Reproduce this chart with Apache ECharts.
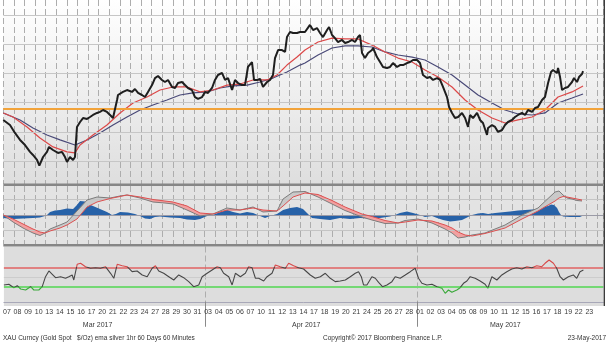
<!DOCTYPE html>
<html><head><meta charset="utf-8">
<script src="https://cdn.jsdelivr.net/npm/echarts@6/dist/echarts.min.js"></script>
<style>html,body{margin:0;padding:0;background:#fff}#c{width:610px;height:354px}</style>
</head><body><div id="c"></div>
<script>
// ---- tick labels ----
const dayLabels = ['07','08','09','10','13','14','15','16','17','20','21','22','23','24','27','28','29','30','31',
  '03','04','05','06','07','10','11','12','13','14','17','18','19','20','21','24','25','26','27','28',
  '01','02','03','04','05','08','09','10','11','12','15','16','17','18','19','22','23'];
const monthLabels = ['Mar 2017','Apr 2017','May 2017'];
const monthCenters = [8.85, 28.55, 47.35];
const monthStarts = [19, 39];

// ---- price panel (x = trading day index, y = $/oz) ----
const price = [[0,1228.1],[0.63,1224.6],[1.10,1219.2],[1.58,1214.4],[2.05,1210.9],[2.52,1206.2],[2.80,1204.1],[3.18,1200.7],[3.40,1196.8],[3.75,1202.7],[4.12,1206.2],[4.31,1209.6],[4.69,1207.5],[5.16,1205.5],[5.54,1206.2],[5.82,1202.7],[6.01,1199.3],[6.29,1202.7],[6.58,1200.7],[6.76,1202.7],[6.95,1223.3],[7.24,1226.7],[7.52,1229.4],[7.90,1228.8],[8.18,1230.1],[8.46,1231.5],[8.84,1232.9],[9.12,1233.6],[9.41,1234.9],[9.78,1233.6],[10.07,1231.5],[10.35,1229.4],[10.73,1241.8],[10.82,1245.2],[11.29,1247.3],[11.67,1248.6],[12.14,1247.3],[12.42,1249.3],[12.71,1246.6],[13.08,1245.2],[13.37,1243.8],[13.65,1247.3],[14.03,1252.0],[14.31,1256.8],[14.59,1258.2],[14.97,1255.5],[15.25,1254.1],[15.54,1255.5],[15.92,1250.7],[16.20,1250.0],[16.48,1253.4],[16.86,1254.1],[17.14,1252.0],[17.42,1250.0],[17.80,1248.6],[18.08,1243.8],[18.37,1242.5],[18.75,1243.8],[19.03,1247.3],[19.31,1246.6],[19.69,1250.0],[19.97,1255.5],[20.25,1258.9],[20.63,1260.3],[20.92,1255.5],[21.20,1256.8],[21.58,1248.6],[21.86,1255.5],[22.14,1253.4],[22.52,1252.0],[22.80,1252.0],[23.08,1264.4],[23.46,1267.8],[23.65,1255.5],[23.93,1255.5],[24.22,1256.2],[24.50,1250.7],[24.88,1254.1],[25.16,1255.5],[25.44,1258.9],[25.63,1270.5],[25.92,1276.0],[26.29,1276.0],[26.58,1274.7],[26.76,1284.9],[27.05,1288.4],[27.33,1287.7],[27.71,1287.7],[27.99,1288.4],[28.46,1288.4],[28.93,1293.2],[29.22,1289.7],[29.59,1291.1],[29.88,1287.7],[30.16,1284.9],[30.54,1289.7],[30.73,1291.8],[31.01,1286.3],[31.29,1284.2],[31.58,1281.5],[31.95,1282.9],[32.24,1280.8],[32.52,1281.5],[32.90,1282.9],[33.18,1281.5],[33.46,1284.9],[33.65,1286.3],[33.84,1274.0],[34.12,1270.5],[34.41,1274.0],[34.78,1276.0],[34.88,1277.4],[35.25,1271.2],[35.54,1267.8],[35.82,1264.4],[36.20,1263.7],[36.48,1264.4],[36.76,1267.1],[37.14,1264.4],[37.42,1265.7],[37.71,1265.7],[38.08,1267.1],[38.37,1267.8],[38.65,1269.2],[39.03,1269.2],[39.31,1267.1],[39.59,1258.9],[39.97,1256.8],[40.25,1257.5],[40.54,1255.5],[40.92,1256.8],[41.20,1255.5],[41.48,1250.7],[41.86,1243.8],[42.05,1237.0],[42.33,1232.9],[42.61,1229.4],[42.90,1230.1],[43.27,1232.9],[43.56,1229.4],[43.84,1223.3],[44.03,1231.5],[44.31,1229.4],[44.69,1232.9],[44.97,1228.1],[45.25,1226.0],[45.63,1217.8],[45.73,1222.6],[46.10,1224.6],[46.39,1223.3],[46.67,1219.9],[47.05,1221.2],[47.33,1224.6],[47.61,1226.7],[47.99,1228.1],[48.27,1230.1],[48.56,1231.5],[48.93,1232.9],[49.22,1231.5],[49.50,1234.9],[49.88,1233.6],[50.16,1236.3],[50.44,1237.0],[50.82,1241.8],[51.10,1243.8],[51.39,1253.4],[51.67,1261.0],[51.86,1262.3],[52.24,1260.3],[52.33,1263.7],[52.52,1257.5],[52.71,1248.6],[52.99,1250.0],[53.27,1250.7],[53.65,1254.1],[53.84,1256.8],[54.12,1254.1],[54.31,1257.5],[54.59,1259.6],[54.69,1261.6]];
const emaFast = [[0,1232.9],[0.92,1230.1],[2.24,1223.3],[3.46,1215.7],[4.69,1209.6],[6.01,1206.2],[6.76,1205.5],[7.24,1210.9],[8.46,1217.8],[9.78,1224.6],[11.01,1232.9],[12.24,1239.7],[13.56,1243.8],[14.78,1248.6],[16.01,1250.7],[17.33,1250.7],[18.56,1247.3],[19.78,1248.6],[21.10,1252.0],[22.33,1252.7],[23.56,1255.5],[24.88,1255.5],[25.82,1258.9],[26.76,1265.7],[27.71,1271.2],[28.46,1276.0],[29.69,1281.5],[31.01,1284.2],[32.24,1283.6],[33.46,1283.6],[34.78,1279.4],[36.01,1274.7],[37.24,1270.5],[38.56,1267.8],[39.78,1262.3],[41.01,1257.5],[42.33,1250.7],[43.56,1241.8],[44.78,1234.9],[46.10,1229.4],[47.33,1226.0],[48.56,1228.1],[49.88,1230.1],[51.10,1234.9],[52.33,1243.8],[53.65,1247.3],[54.69,1251.4]];
const emaSlow = [[0,1232.9],[1.58,1228.1],[2.80,1222.6],[4.12,1217.8],[5.35,1214.4],[6.76,1210.9],[7.90,1214.4],[9.12,1219.2],[10.35,1224.6],[11.67,1230.1],[12.90,1234.9],[14.12,1238.3],[15.44,1241.8],[16.67,1245.2],[17.89,1246.6],[19.22,1247.3],[20.44,1250.0],[21.67,1251.4],[22.99,1252.0],[24.22,1254.1],[25.44,1256.8],[26.76,1261.0],[27.99,1265.7],[28.46,1267.1],[29.69,1272.6],[31.01,1277.4],[32.24,1278.8],[33.46,1278.8],[34.78,1278.1],[36.01,1274.7],[37.24,1272.6],[38.56,1271.2],[39.78,1269.2],[41.01,1264.4],[42.33,1258.9],[43.56,1252.0],[44.78,1245.2],[46.10,1239.7],[47.33,1234.9],[48.56,1232.2],[49.88,1231.5],[51.10,1232.9],[52.33,1239.7],[53.65,1243.1],[54.69,1245.9]];
const refLevel = 1235.6;
const priceGridLevels = [1200,1220,1240,1260,1280,1300];

// ---- MACD panel ----
const macdDays = [0,0.92,1.86,2.80,3.46,3.93,4.41,5.35,6.01,6.95,7.90,8.84,10.07,11.01,11.67,12.90,14.12,15.25,16.01,17.33,18.56,19.78,21.10,22.33,23.56,24.50,25.82,26.39,27.33,28.46,29.69,31.01,32.24,33.84,34.78,36.01,37.24,37.90,39.12,40.44,41.67,42.33,42.90,43.56,44.22,45.44,47.33,48.93,50.44,51.39,52.05,52.42,52.80,53.18,53.65,54.12,54.59];
const macdLine = [0,-0.7,-1.3,-1.8,-2.05,-1.8,-1.4,-1.0,-0.7,0.4,1.5,1.8,1.7,1.9,2.0,1.7,1.3,1.2,1.1,0.5,-0.1,0.1,0.7,0.5,0.8,0.3,0.4,1.6,2.3,2.35,1.8,1.1,0.45,-0.2,-0.5,-0.85,-0.8,-0.55,-0.4,-0.8,-1.4,-1.8,-2.3,-2.2,-2.0,-1.8,-1.0,0.0,0.7,1.65,2.3,2.4,2.0,1.7,1.6,1.45,1.4];
const signalLine = [0,-0.4,-0.9,-1.4,-1.7,-1.8,-1.6,-1.3,-1.0,-0.4,0.8,1.3,1.65,1.85,2.0,1.8,1.55,1.4,1.3,0.9,0.2,0.1,0.5,0.5,0.7,0.5,0.4,0.9,1.8,2.2,2.05,1.45,0.8,0.1,-0.15,-0.55,-0.8,-0.7,-0.5,-0.6,-1.0,-1.3,-1.7,-2.0,-2.1,-1.85,-1.3,-0.4,0.4,1.0,1.4,1.7,1.85,1.8,1.7,1.6,1.5];
const macdHist = [[0,-0.3],[0.92,-0.4],[1.86,-0.35],[2.80,-0.3],[3.46,-0.25],[3.93,-0.1],[4.12,0],[4.41,0.3],[4.88,0.45],[5.35,0.5],[6.01,0.65],[6.58,0.6],[6.95,1.0],[7.24,1.4],[7.71,1.35],[7.99,1.1],[8.46,0.9],[9.12,0.6],[9.78,0.3],[10.25,0],[10.63,0.1],[11.01,0.3],[11.76,0.25],[12.42,0.1],[12.90,-0.1],[13.37,-0.35],[13.84,-0.4],[14.31,-0.2],[14.78,-0.15],[15.73,-0.25],[16.67,-0.3],[17.33,-0.45],[18.08,-0.5],[18.56,-0.4],[19.22,-0.1],[19.78,0],[20.44,0.3],[21.10,0.5],[21.67,0.3],[22.33,0.15],[22.99,0.3],[23.56,0.2],[24.22,-0.1],[24.69,-0.3],[25.16,-0.1],[25.82,0.1],[26.39,0.5],[27.05,0.7],[27.71,0.8],[28.27,0.6],[28.84,0],[29.12,-0.3],[29.88,-0.4],[30.82,-0.5],[31.76,-0.3],[32.71,-0.4],[33.65,-0.3],[34.59,-0.35],[35.54,-0.3],[36.48,-0.15],[36.95,0],[37.42,0.2],[38.08,0.35],[38.65,0.2],[39.31,0],[39.78,-0.2],[40.44,-0.1],[40.92,-0.3],[41.48,-0.5],[42.14,-0.65],[42.61,-0.6],[43.27,-0.5],[43.84,-0.2],[44.22,0],[44.78,0.15],[45.25,0.2],[45.73,0.1],[46.39,0.2],[46.86,0.25],[47.80,0.35],[48.56,0.45],[49.22,0.5],[49.88,0.55],[50.44,0.6],[50.92,0.8],[51.39,0.9],[51.67,1.05],[51.95,1.0],[52.24,0.7],[52.42,0.3],[52.61,0],[52.80,-0.15],[53.46,-0.2],[54.22,-0.2],[54.59,-0.2]];
const macdGridLevels = [1.6, -1.5];

// ---- RSI panel ----
const rsi = [[0,34.1],[0.47,35.5],[0.94,28.6],[1.26,32.6],[1.58,25.9],[2.05,23.9],[2.52,30.6],[2.83,23.9],[3.30,23.9],[3.62,30.6],[3.93,50.9],[4.25,62.5],[4.57,55.8],[4.88,48.9],[5.35,50.9],[5.82,47.7],[6.13,50.9],[6.45,54.4],[6.60,44.2],[6.92,76.1],[7.24,78.1],[7.71,71.2],[8.18,68.0],[8.65,69.2],[9.12,68.0],[9.59,71.2],[10.07,57.8],[10.38,47.7],[10.70,76.1],[11.17,73.2],[11.64,71.2],[12.11,61.1],[12.58,62.5],[13.06,54.4],[13.53,50.9],[14.00,68.0],[14.31,73.2],[14.62,62.5],[15.09,57.8],[15.57,50.9],[16.04,44.2],[16.51,54.4],[16.98,48.9],[17.45,40.8],[17.92,30.6],[18.40,34.1],[18.72,50.9],[19.19,57.8],[19.66,64.5],[20.13,71.2],[20.44,69.2],[20.75,57.8],[21.23,50.9],[21.55,34.1],[21.86,57.8],[22.33,50.9],[22.80,57.8],[23.11,71.2],[23.43,69.2],[23.75,47.7],[24.06,47.7],[24.53,42.2],[24.85,50.9],[25.32,57.8],[25.63,74.7],[26.10,71.2],[26.58,68.0],[26.89,78.1],[27.36,73.2],[27.83,69.2],[28.30,66.5],[28.46,64.5],[28.93,54.4],[29.40,47.7],[29.88,50.9],[30.35,57.8],[30.82,47.7],[31.29,40.8],[31.76,42.2],[32.24,44.2],[32.71,50.9],[33.18,57.8],[33.49,61.1],[33.75,50.9],[33.96,34.1],[34.28,34.1],[34.75,50.9],[35.07,47.7],[35.38,39.5],[35.75,30.6],[36.17,34.1],[36.64,40.8],[36.95,50.9],[37.42,47.7],[37.90,54.4],[38.37,61.1],[38.84,68.0],[39.15,47.7],[39.47,37.5],[39.94,34.1],[40.42,35.5],[40.89,30.6],[41.36,27.4],[41.67,17.2],[41.98,23.9],[42.30,19.2],[42.77,23.9],[43.08,28.6],[43.40,37.5],[43.72,42.2],[44.03,50.9],[44.50,47.7],[44.97,42.2],[45.44,35.5],[45.70,27.4],[46.08,50.9],[46.55,44.2],[47.02,54.4],[47.49,61.1],[47.96,66.5],[48.43,69.2],[48.91,66.5],[49.38,71.2],[49.85,69.2],[50.32,73.2],[50.79,71.2],[51.10,78.1],[51.48,84.8],[51.89,78.1],[52.20,68.0],[52.52,50.9],[52.83,44.2],[53.30,50.9],[53.77,54.4],[54.09,47.7],[54.40,61.1],[54.72,64.5]];
const rsiUpper = 70, rsiLower = 30, rsiMid = 50;

const footerLeft = 'XAU Curncy (Gold Spot   $/Oz) ema silver 1hr 60 Days 60 Minutes';
const footerMid = 'Copyright\u00A9 2017 Bloomberg Finance L.P.';
const footerRight = '23-May-2017';

// ---- build ----
const FONT = "'Liberation Sans','DejaVu Sans',sans-serif";
const chart = echarts.init(document.getElementById('c'), null, {renderer:'canvas'});
const GL = 3.3, GW = 600;
const bandSegs = macdDays.slice(0,-1).map((d,i)=>[d, macdLine[i], signalLine[i], macdDays[i+1], macdLine[i+1], signalLine[i+1]]);

function xAx(gi, extra){
  return Object.assign({type:'value', gridIndex:gi, min:0, max:56.6, interval:1,
    axisLine:{show:false}, axisTick:{show:false}, axisLabel:{show:false},
    splitLine:{show:true, lineStyle:{color:'#adadad', width:1, type:[6,3]}}}, extra||{});
}
function hLines(levels, color, width){
  return {silent:true, symbol:'none', label:{show:false}, animation:false,
    lineStyle:{color:color, width:width, type:'solid'}, data:levels.map(v=>({yAxis:v}))};
}
const noSym = {showSymbol:false, symbol:'none', animation:false, silent:true};

const option = {
  animation:false,
  grid:[
    {left:GL, top:0, width:GW, height:184, show:true, borderWidth:0,
     backgroundColor:{type:'linear',x:0,y:0,x2:0,y2:1,colorStops:[{offset:0,color:'#ffffff'},{offset:1,color:'#dedede'}]}},
    {left:GL, top:186, width:GW, height:58, show:true, borderWidth:0, backgroundColor:'#e3e3e3'},
    {left:GL, top:246.5, width:GW, height:59.5, show:true, borderWidth:0, backgroundColor:'#dddddd'}
  ],
  xAxis:[
    xAx(0), xAx(1),
    xAx(2, {axisLine:{show:true, lineStyle:{color:'#a8a8b8'}},
      axisTick:{show:true, customValues:monthStarts, length:25, lineStyle:{color:'#8a8a8a', width:1}},
      axisLabel:{show:true, margin:3, padding:[0,0,0,6], color:'#3a3a3a', fontSize:7, fontFamily:FONT,
        formatter:v=>dayLabels[Math.round(v)]||''}}),
    {type:'value', gridIndex:2, min:0, max:56.6, offset:12, position:'bottom',
      axisLine:{show:false}, axisTick:{show:false}, splitLine:{show:false},
      axisLabel:{show:true, customValues:monthCenters, margin:4, color:'#3a3a3a', fontSize:7, fontFamily:FONT,
        formatter:v=>{const i=monthCenters.indexOf(v); return i>=0?monthLabels[i]:'';}}}
  ],
  yAxis:[
    {type:'value', gridIndex:0, min:1184.2, max:1310.3, show:false},
    {type:'value', gridIndex:1, min:-2.9, max:2.9, show:false},
    {type:'value', gridIndex:2, min:-8.6, max:112.2, show:false}
  ],
  visualMap:[{type:'piecewise', show:false, seriesIndex:11, dimension:1,
    pieces:[{gt:rsiUpper, color:'#d84848'},{lt:rsiLower, color:'#3aa83a'},{gte:rsiLower, lte:rsiUpper, color:'#474747'}]}],
  series:[
    // 0 price grid lines
    Object.assign({type:'line', xAxisIndex:0, yAxisIndex:0, data:[], z:1, markLine:hLines(priceGridLevels,'#c6c6c6',1)}, noSym),
    // 1 reference level
    Object.assign({type:'line', xAxisIndex:0, yAxisIndex:0, data:[], z:2, markLine:hLines([refLevel],'#f2a33a',2)}, noSym),
    // 2 slow EMA
    Object.assign({type:'line', xAxisIndex:0, yAxisIndex:0, data:emaSlow, z:3, lineStyle:{color:'#4a4a78', width:1.2}}, noSym),
    // 3 fast EMA
    Object.assign({type:'line', xAxisIndex:0, yAxisIndex:0, data:emaFast, z:4, lineStyle:{color:'#dc4848', width:1.2}}, noSym),
    // 4 price
    Object.assign({type:'line', xAxisIndex:0, yAxisIndex:0, data:price, z:5, lineStyle:{color:'#1e1e1e', width:2}}, noSym),
    // 5 MACD grid lines
    Object.assign({type:'line', xAxisIndex:1, yAxisIndex:1, data:[], z:1, markLine:hLines(macdGridLevels,'#c4c4c4',1)}, noSym),
    // 6 histogram
    Object.assign({type:'line', xAxisIndex:1, yAxisIndex:1, data:macdHist, z:2, lineStyle:{width:0},
      areaStyle:{color:'#2762a8', opacity:1, origin:'auto'}}, noSym),
    // 7 zero line
    Object.assign({type:'line', xAxisIndex:1, yAxisIndex:1, data:[], z:3, markLine:hLines([0],'#9a9aa6',1.2)}, noSym),
    // 8 band between MACD and signal
    {type:'custom', xAxisIndex:1, yAxisIndex:1, data:bandSegs, z:4, silent:true, animation:false,
      encode:{x:[0,3], y:[1,2,4,5]},
      renderItem:function(params, api){
        const a = api.coord([api.value(0), api.value(1)]);
        const b = api.coord([api.value(3), api.value(4)]);
        const c = api.coord([api.value(3), api.value(5)]);
        const d = api.coord([api.value(0), api.value(2)]);
        const diff = (api.value(2)-api.value(1)) + (api.value(5)-api.value(4));
        return {type:'polygon', shape:{points:[a,b,c,d]}, style:{fill: diff>0 ? '#f2a0a0' : '#c9c9c9'}};
      }},
    // 9 MACD line
    Object.assign({type:'line', xAxisIndex:1, yAxisIndex:1, data:macdDays.map((d,i)=>[d,macdLine[i]]), z:5, lineStyle:{color:'#7c7c7c', width:1}}, noSym),
    // 10 signal line
    Object.assign({type:'line', xAxisIndex:1, yAxisIndex:1, data:macdDays.map((d,i)=>[d,signalLine[i]]), z:6, lineStyle:{color:'#dd5050', width:1}}, noSym),
    // 11 RSI
    Object.assign({type:'line', xAxisIndex:2, yAxisIndex:2, data:rsi, z:5, lineStyle:{width:1.1}}, noSym),
    // 12-14 RSI bands
    Object.assign({type:'line', xAxisIndex:2, yAxisIndex:2, data:[], z:2, markLine:hLines([rsiUpper],'#e06262',1.5)}, noSym),
    Object.assign({type:'line', xAxisIndex:2, yAxisIndex:2, data:[], z:2, markLine:hLines([rsiLower],'#74d874',2)}, noSym),
    Object.assign({type:'line', xAxisIndex:2, yAxisIndex:2, data:[], z:1, markLine:hLines([rsiMid],'#cccccc',1)}, noSym)
  ],
  graphic:[
    {type:'rect', shape:{x:GL, y:183.5, width:GW, height:2.6}, style:{fill:'#868686'}, z:100, silent:true},
    {type:'rect', shape:{x:GL, y:244, width:GW, height:2.6}, style:{fill:'#868686'}, z:100, silent:true},
    {type:'rect', shape:{x:603.6, y:0, width:1.4, height:306}, style:{fill:'#3c3c3c'}, z:100, silent:true},
    {type:'text', x:3, y:338, style:{text:footerLeft, font:'6.5px '+FONT, fill:'#333', textAlign:'left', textVerticalAlign:'middle'}, z:100, silent:true},
    {type:'text', x:323, y:338, style:{text:footerMid, font:'6.5px '+FONT, fill:'#333', textAlign:'left', textVerticalAlign:'middle'}, z:100, silent:true},
    {type:'text', x:606, y:338, style:{text:footerRight, font:'6.5px '+FONT, fill:'#333', textAlign:'right', textVerticalAlign:'middle'}, z:100, silent:true}
  ]
};
chart.setOption(option);
</script></body></html>
